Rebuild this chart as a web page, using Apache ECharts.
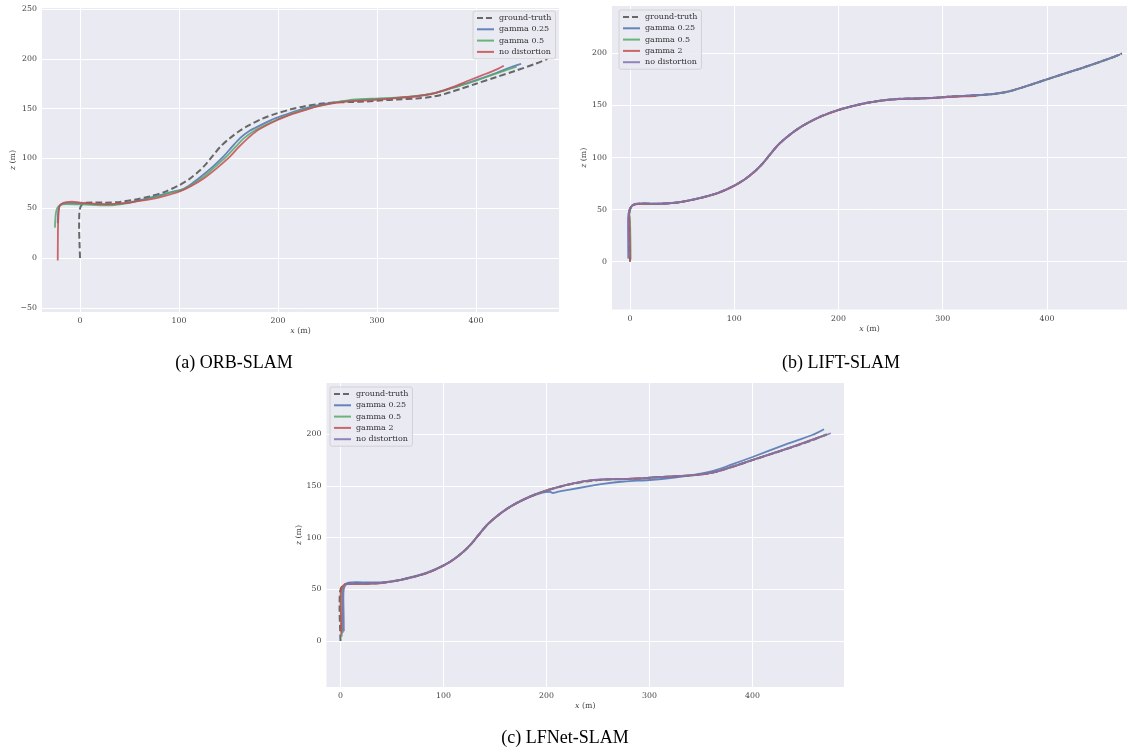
<!DOCTYPE html>
<html>
<head>
<meta charset="utf-8">
<script src="https://cdn.jsdelivr.net/npm/echarts@6/dist/echarts.min.js"></script>
<style>
html,body{margin:0;padding:0;background:#fff;}
#chart{width:1129px;height:754px;}
</style>
</head>
<body>
<div id="chart"></div>
<script>
// ---------- data: trajectories as [x (m), z (m)] ----------
const groundTruth = [[0,0],[-0.5,15],[-0.9,30],[-0.8,42],[-0.2,49],[1.5,53],[5,55.2],[12,55.8],[25,55.6],[40,56.3],[55,58.5],[70,61.8],[85,66.2],[100,73],[110,79],[120,87],[127,94],[134,102.5],[142,112],[151,120],[161,127.5],[171,133.5],[184,139.8],[198,145],[212,149],[226,152.2],[242,154.8],[259,156.3],[275,156.6],[290,157.2],[305,158.3],[320,159.1],[340,160.2],[355,161.8],[365,163.8],[375,166.8],[385,170],[400,175],[420,181.5],[440,188],[460,195],[472,199.8]];

// (a) ORB-SLAM
const orbGamma025 = [[-22.5,34.8],[-22.3,42],[-21.8,48],[-20.5,52.5],[-17.5,54.7],[-12,55.2],[-4,55],[5,54.5],[18,53.9],[32,53.8],[47,55.4],[63,58.6],[78,62.3],[92,66.2],[104,69.3],[114,75.5],[124.5,83.6],[135,92.5],[144.7,101.7],[153,111],[161.9,120.6],[171,127.5],[182,133.2],[193,138.5],[205.5,143.2],[218,147.6],[232.6,151.7],[250,155.3],[270,157.8],[290,159.2],[315,160.5],[340,162.6],[358,165.5],[375,170.5],[394,176.5],[421,186],[435,191.5],[445.5,194.8]];
const orbGamma05 = [[-25.3,30.5],[-25,38],[-24.3,45.5],[-22.8,50.5],[-20,53.2],[-14,54.1],[-5,54],[6.8,53.6],[20,52.9],[35,53.2],[50,55.3],[63,58],[78,61.8],[92,65.8],[104,68.6],[114,74.3],[126,82.5],[137,92],[148,102],[157,111.5],[166,120.6],[176,127.8],[187,133.4],[198,138.6],[209,143],[222,147.6],[237,151.8],[254,155.6],[272,158.6],[295,159.9],[315,160.8],[340,162.8],[358,165.6],[375,170.5],[394,176],[421,185.4],[441,192.2]];
const orbNoDistortion = [[-22.5,-2.5],[-22.4,15],[-22.2,32],[-21.7,44],[-20.9,51.5],[-18.5,54.5],[-14,56],[-8,56.5],[0,55.6],[12,54.6],[27,53.9],[45,55],[60,57.4],[70.4,58.8],[85,62.2],[100.7,66.8],[112,72],[124.5,79.5],[138,90],[151.4,101.7],[160,111],[169.9,120.6],[178,127.3],[188,133],[200,138.8],[210,143],[225,147.8],[239.7,152.2],[255,155.2],[272,157.3],[295,158.6],[315,160.1],[340,162.4],[358,165.4],[375,171],[394,178.7],[410,185],[421,189.4],[428,193]];

// (b) LIFT-SLAM
const liftGamma025 = [[-1.6,3],[-1.7,20],[-1.8,38],[-1.4,46],[-0.3,50.5],[2,53.8],[5,55.3],[12,55.8],[25,55.5],[40,56.2],[55,58.4],[70,61.8],[85,66.2],[100,73],[110,79],[120,87],[127,94],[134,102.5],[142,112],[151,120],[161,127.5],[171,133.5],[184,139.8],[198,145],[212,149],[226,152.2],[242,154.8],[259,156.3],[275,156.6],[290,157.2],[305,158.3],[320,159.1],[340,160.2],[355,161.8],[365,163.8],[375,166.8],[385,170],[400,175],[420,181.5],[440,188],[460,195],[470,198.8]];
const liftGamma05 = [[0.6,2],[0.4,20],[0,38],[-0.6,46],[-0.1,50.5],[2.2,53.8],[5.2,55.2],[12,55.7],[25,55.5],[40,56.2],[55,58.4],[70,61.7],[85,66.1],[100,72.9],[110,78.9],[120,86.9],[127,93.9],[134,102.4],[142,111.9],[151,119.9],[161,127.4],[171,133.4],[184,139.7],[198,144.9],[212,148.9],[226,152.1],[242,154.7],[259,156.2],[275,156.5],[290,157.1],[305,158.2],[320,159],[340,160.1],[355,161.7],[365,163.7],[375,166.7],[385,169.9],[400,174.9],[420,181.4],[440,187.9],[460,194.9],[469,198.5]];
const liftGamma2 = [[0,0.5],[-0.2,20],[-0.5,38],[-0.8,46],[-0.2,50.5],[2.1,53.7],[5,55.1],[12,55.6],[25,55.4],[40,56.1],[55,58.3],[70,61.6],[85,66],[100,72.8],[110,78.8],[120,86.8],[127,93.8],[134,102.3],[142,111.8],[151,119.8],[161,127.3],[171,133.3],[184,139.6],[198,144.8],[212,148.8],[226,152],[242,154.6],[259,156],[275,156.3],[290,156.9],[305,157.9],[320,158.6],[332,159]];
const liftNoDistortion = [[-1.3,3.3],[-1.5,20],[-1.7,38],[-1.3,46],[-0.2,50.5],[2,53.9],[5,55.4],[12,55.9],[25,55.6],[40,56.3],[55,58.5],[70,61.9],[85,66.3],[100,73.1],[110,79.1],[120,87.1],[127,94.1],[134,102.6],[142,112.1],[151,120.1],[161,127.6],[171,133.6],[184,139.9],[198,145.1],[212,149.1],[226,152.3],[242,154.9],[259,156.4],[275,156.7],[290,157.3],[305,158.4],[320,159.2],[340,160.3],[355,161.9],[365,163.9],[375,166.9],[385,170.1],[400,175.1],[420,181.6],[440,188.1],[460,195.1],[470,198.9]];

// (c) LFNet-SLAM
const lfnetGamma025 = [[2.2,8],[2.3,25],[2.2,42],[2.6,50],[4.5,54.5],[8,56.4],[15,57],[30,56.6],[45,57.2],[58,59.2],[70,62.2],[85,66.6],[100,73.2],[110,79.2],[120,87.2],[127,94.2],[134,102.7],[142,112.2],[151,120.2],[161,127.5],[171,133.2],[184,139.3],[196,143.6],[203,144.4],[206.4,143.2],[209,143.9],[222.6,146.4],[240,149.6],[254.8,152.1],[275,154.3],[303.2,156],[335,159.6],[361,164.4],[380,170.8],[400,178],[432.3,190.2],[458,199.3],[469.4,204.9]];
const lfnetGamma05 = [[1.2,4],[1,20],[0.7,40],[1.2,49],[3,53.6],[6,55],[12,55.4],[25,55.4],[40,56.2],[55,58.4],[70,61.8],[85,66.2],[100,73],[110,79],[120,87],[127,94],[134,102.5],[142,112],[151,120],[161,127.5],[171,133.5],[184,139.8],[198,145],[212,149],[226,152.4],[242,155.2],[259,156.4],[275,156.7],[290,157.3],[305,158.4],[320,159.2],[340,160.3],[355,161.9],[365,163.9],[375,166.9],[385,170.1],[400,175.2],[420,181.7],[440,188.3],[460,195.4],[472,199.9]];
const lfnetGamma2 = [[0.8,6],[0.3,25],[0,42],[0.6,49.5],[2.5,53.5],[6,55],[15,55.2],[30,55.5],[40,56.1],[55,58.3],[70,61.7],[85,66.1],[100,72.9],[110,78.9],[120,86.9],[127,93.9],[134,102.4],[142,111.9],[151,119.9],[161,127.4],[171,133.4],[184,139.7],[198,144.9],[212,149.1],[226,152.5],[242,155.3],[259,156.4],[275,156.6],[290,157.2],[305,158.3],[320,159.1],[340,160.2],[355,161.8],[365,163.8],[375,166.8],[385,170],[400,175.1],[420,181.6],[440,188.2],[458,194.8],[469.4,198.8]];
const lfnetNoDistortion = [[3.3,9.5],[3.1,25],[2.8,42],[3.2,50],[5,54.3],[9,55.6],[18,55.8],[30,55.7],[40,56.3],[55,58.5],[70,61.9],[85,66.3],[100,73.1],[110,79.1],[120,87.1],[127,94.1],[134,102.6],[142,112.1],[151,120.1],[161,127.6],[171,133.6],[184,139.9],[198,145.1],[212,149.2],[226,152.6],[242,155.4],[259,156.5],[275,156.7],[290,157.3],[305,158.4],[320,159.2],[340,160.3],[355,161.9],[365,163.9],[375,166.9],[385,170.1],[400,175.2],[420,181.7],[440,188.2],[460,195.3],[476,201]];

const legendA = ['ground-truth','gamma 0.25','gamma 0.5','no distortion'];
const legendBC = ['ground-truth','gamma 0.25','gamma 0.5','gamma 2','no distortion'];
const captions = ['(a) ORB-SLAM','(b) LIFT-SLAM','(c) LFNet-SLAM'];

// ---------- styling ----------
const GRAY = 'rgba(80,80,80,0.85)';
const BLUE = 'rgba(76,114,176,0.85)';
const GREEN = 'rgba(85,168,104,0.85)';
const RED = 'rgba(196,78,82,0.85)';
const PURPLE = 'rgba(129,114,178,0.85)';
const coloursA = [GRAY, BLUE, GREEN, RED];
const coloursBC = [GRAY, BLUE, GREEN, RED, PURPLE];
const FONT = 'DejaVu Serif';
const TXT = '#444';
const DASH = [6.5,3.2];

const grids = [
  {left:42, top:8, width:517, height:304},
  {left:612, top:6, width:515, height:303.5},
  {left:326.5, top:383, width:517.5, height:304}
];
const xr = [[-38.4,483.8],[-17.3,476.8],[-13.6,488.8]];
const yr = [[-54.2,251],[-45.9,245.4],[-44.5,249.6]];
const yNameGap = [24,19.5,22];
const xNameGap = [15,15,15];

function minus(v){ return String(v).replace('-', '\u2212'); }
const nameStyle = {fontFamily:FONT, fontSize:7.8, color:TXT,
  rich:{i:{fontFamily:FONT, fontSize:7.8, color:TXT, fontStyle:'italic'}}};

const xAxis = grids.map((g,i)=>({
  type:'value', gridIndex:i, min:xr[i][0], max:xr[i][1], splitNumber:5,
  axisLine:{show:false}, axisTick:{show:false},
  splitLine:{show:true, showMinLine:false, showMaxLine:false, lineStyle:{color:'#ffffff', width:1}},
  axisLabel:{fontFamily:FONT, fontSize:7.8, color:TXT, margin:5, showMinLabel:false, showMaxLabel:false, formatter:minus},
  name:'{i|x} (m)', nameLocation:'middle', nameGap:xNameGap[i], nameTextStyle:nameStyle
}));
const yAxis = grids.map((g,i)=>({
  type:'value', gridIndex:i, min:yr[i][0], max:yr[i][1], splitNumber:6,
  axisLine:{show:false}, axisTick:{show:false},
  splitLine:{show:true, showMinLine:false, showMaxLine:false, lineStyle:{color:'#ffffff', width:1}},
  axisLabel:{fontFamily:FONT, fontSize:7.8, color:TXT, margin:5, showMinLabel:false, showMaxLabel:false, formatter:minus},
  name:'{i|z} (m)', nameLocation:'middle', nameGap:yNameGap[i], nameTextStyle:nameStyle
}));

function mk(name, data, gi, color){
  const gt = name === 'ground-truth';
  return {
    type:'line', name, data, xAxisIndex:gi, yAxisIndex:gi,
    symbol:'none', smooth:0.3, silent:true, animation:false,
    lineStyle:{color, width: gt?2:1.8, type: gt?DASH:'solid'},
    itemStyle:{color}
  };
}
const series = [
  mk(legendA[0], groundTruth, 0, coloursA[0]),
  mk(legendA[1], orbGamma025, 0, coloursA[1]),
  mk(legendA[2], orbGamma05, 0, coloursA[2]),
  mk(legendA[3], orbNoDistortion, 0, coloursA[3]),
  mk(legendBC[0], groundTruth, 1, coloursBC[0]),
  mk(legendBC[1], liftGamma025, 1, coloursBC[1]),
  mk(legendBC[2], liftGamma05, 1, coloursBC[2]),
  mk(legendBC[3], liftGamma2, 1, coloursBC[3]),
  mk(legendBC[4], liftNoDistortion, 1, coloursBC[4]),
  mk(legendBC[0], groundTruth, 2, coloursBC[0]),
  mk(legendBC[1], lfnetGamma025, 2, coloursBC[1]),
  mk(legendBC[2], lfnetGamma05, 2, coloursBC[2]),
  mk(legendBC[3], lfnetGamma2, 2, coloursBC[3]),
  mk(legendBC[4], lfnetNoDistortion, 2, coloursBC[4])
];

function legend(names, colours, left, top){
  return {
    data: names.map((n,k)=>({
      name:n,
      lineStyle:{color:colours[k], width:2, opacity:1, type: k===0?[6,3]:'solid'},
      itemStyle:{opacity:0, color:'transparent', borderWidth:0}
    })),
    left, top, orient:'vertical', padding:[3,4,3,3],
    itemWidth:17, itemHeight:8, itemGap:3.3, selectedMode:false,
    itemStyle:{opacity:0, color:'transparent', borderWidth:0},
    backgroundColor:'rgba(234,234,242,0.85)', borderColor:'#cccccc', borderWidth:0.8, borderRadius:2,
    textStyle:{fontFamily:FONT, fontSize:8, color:'#333', lineHeight:8}
  };
}

const chart = echarts.init(document.getElementById('chart'), null, {renderer:'canvas'});
chart.setOption({
  backgroundColor:'#ffffff',
  animation:false,
  grid: grids.map(g=>Object.assign({show:true, backgroundColor:'#EAEAF2', borderWidth:0, containLabel:false}, g)),
  xAxis, yAxis, series,
  legend:[legend(legendA, coloursA, 473, 11), legend(legendBC, coloursBC, 619, 10), legend(legendBC, coloursBC, 330, 387)],
  graphic:[
    {type:'text', x:234, y:363, style:{text:captions[0], textAlign:'center', textVerticalAlign:'middle', font:'18px "Liberation Serif"', fill:'#000'}},
    {type:'text', x:841, y:363, style:{text:captions[1], textAlign:'center', textVerticalAlign:'middle', font:'18px "Liberation Serif"', fill:'#000'}},
    {type:'text', x:565, y:738, style:{text:captions[2], textAlign:'center', textVerticalAlign:'middle', font:'18px "Liberation Serif"', fill:'#000'}}
  ]
});
</script>
</body>
</html>
